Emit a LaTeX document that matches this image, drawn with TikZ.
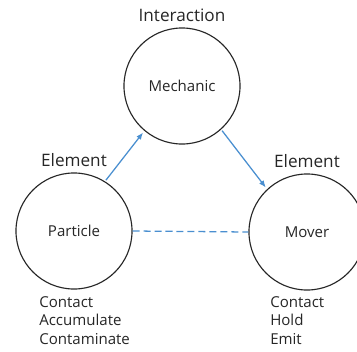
\documentclass[tikz,border=0pt]{standalone}
\usepackage{fontspec}
\setmainfont{Open Sans}
\usepackage{tikz}
\usetikzlibrary{arrows.meta,positioning}
\definecolor{Ink}{HTML}{262626}
\definecolor{Link}{HTML}{4A8FD0}

\begin{document}
\begin{tikzpicture}[x=0.025cm,y=-0.025cm,text=Ink,
    unit/.style={circle,draw=Ink,line width=0.8pt,minimum size=2.9cm,inner sep=0pt,font=\fontsize{10.7}{12}\selectfont},
    role/.style={inner sep=0pt,font=\fontsize{12.2}{14}\selectfont},
    verbs/.style={inner sep=0pt,anchor=north west,align=left,font=\fontsize{10.7}{13.2}\selectfont},
    arrow/.style={-{Latex[length=5pt,width=4pt]},line width=0.9pt,draw=Link,shorten <=1pt,shorten >=1.5pt},
    link/.style={dashed,dash pattern=on 5pt off 2.8pt,line width=0.9pt,draw=Link}
]
\useasboundingbox (0,0) rectangle (357,351);
% three circles
\node[unit] (mech) at (182,86) {Mechanic};
\node[unit] (part) at (74,231) {Particle};
\node[unit] (mover) at (307,232) {Mover};
% headings
\node[role,above=4pt of mech] (inter) {Interaction};
\node[role,above=4pt of part] (elemL) {Element};
\node[role,above=4pt of mover] (elemR) {Element};
% verb lists
\node[verbs] (verbsL) at (39,296) {Contact\\Accumulate\\Contaminate};
\node[verbs] (verbsR) at (270,296) {Contact\\Hold\\Emit};
% connectors
\draw[arrow] (part.58) -- (mech.230);
\draw[arrow] (mech.312) -- (mover.133);
\draw[link] (part.east) -- (mover.west);
\end{tikzpicture}
\end{document}
